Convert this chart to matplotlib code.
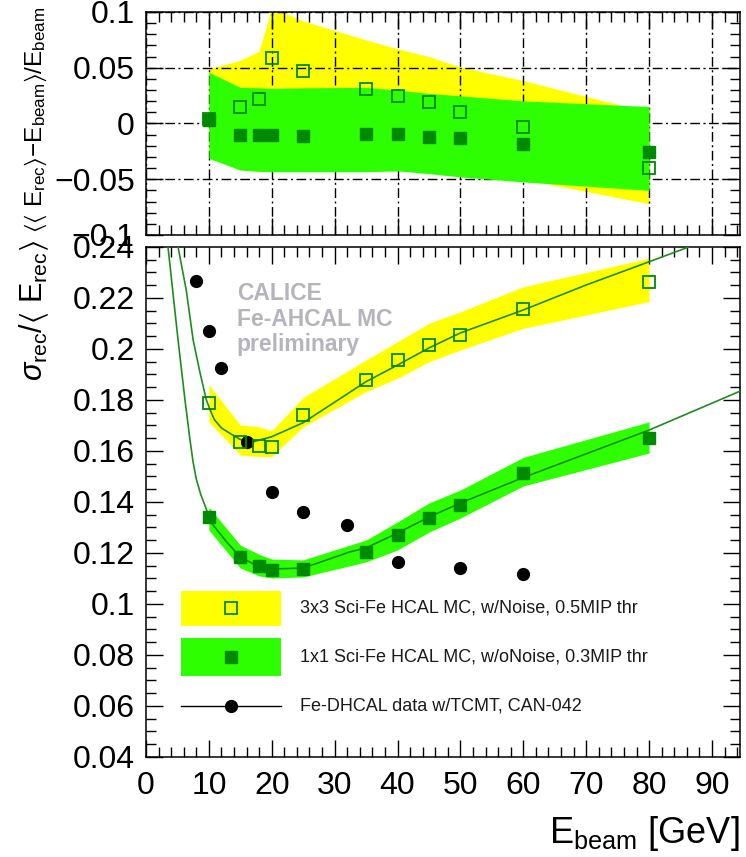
import numpy as np
import matplotlib
matplotlib.use("Agg")
import matplotlib.pyplot as plt
from matplotlib.ticker import MultipleLocator, FuncFormatter
from matplotlib.patches import Rectangle

# Energias dos pontos de MC
energias = [10, 15, 18, 20, 25, 35, 40, 45, 50, 60, 80]

# Painel de cima: linearidade (<E_rec> - E_beam) / E_beam
lin3x3 = [0.004, 0.0145, 0.022, 0.059, 0.047, 0.031, 0.025, 0.019, 0.010, -0.003, -0.040]
lin1x1 = [0.003, -0.010, -0.010, -0.010, -0.011, -0.009, -0.0095, -0.012, -0.013, -0.018, -0.026]
lin3x3Sup = [0.049, 0.0567, 0.065, 0.104, 0.092, 0.075, 0.067, 0.060, 0.0506, 0.0385, 0.010]
lin3x3Inf = [-0.030, -0.035, -0.030, -0.025, -0.025, -0.030, -0.035, -0.040, -0.045, -0.050, -0.072]
lin1x1Sup = [0.046, 0.0324, 0.032, 0.0315, 0.032, 0.0324, 0.030, 0.027, 0.0248, 0.0203, 0.0152]
lin1x1Inf = [-0.0312, -0.0418, -0.043, -0.0433, -0.0433, -0.0433, -0.0425, -0.045, -0.0479, -0.0524, -0.060]

# Painel de baixo: resolucao sigma / <E_rec>
res3x3 = [0.1788, 0.1635, 0.162, 0.1616, 0.174, 0.1878, 0.1957, 0.2016, 0.2055, 0.2157, 0.2263]
res1x1 = [0.134, 0.1184, 0.1148, 0.1135, 0.1138, 0.1204, 0.127, 0.1337, 0.139, 0.1514, 0.165]
res3x3Sup = [0.186, 0.1702, 0.1695, 0.168, 0.181, 0.1957, 0.2029, 0.2101, 0.2146, 0.2244, 0.2356]
res3x3Inf = [0.1714, 0.1584, 0.1578, 0.1578, 0.1695, 0.1833, 0.1885, 0.195, 0.1996, 0.2081, 0.2186]
res1x1Sup = [0.138, 0.1231, 0.1195, 0.1176, 0.1173, 0.1251, 0.1322, 0.1396, 0.1447, 0.1575, 0.1714]
res1x1Inf = [0.129, 0.1141, 0.111, 0.1102, 0.1106, 0.1165, 0.1212, 0.1282, 0.1337, 0.1463, 0.1592]

# Curvas de ajuste
ajuste3x3X = [5.1, 6.4, 7.5, 8.6, 9.6, 10.3, 10.9, 12.0, 13.3, 15, 17, 20, 25, 35, 40, 45, 50, 60, 70, 80, 86.3]
ajuste3x3Y = [0.24, 0.2231, 0.2035, 0.1906, 0.18, 0.1755, 0.1722, 0.1690, 0.167, 0.1645, 0.1636, 0.1656,
              0.1711, 0.1872, 0.1937, 0.2004, 0.2063, 0.2153, 0.2251, 0.2342, 0.24]
ajuste1x1X = [3.5, 5.1, 6.2, 7.0, 7.5, 8.0, 8.7, 9.4, 10.4, 12.8, 15, 18, 20, 25, 32.4, 35, 40, 45, 50, 60,
              80, 94.5]
ajuste1x1Y = [0.24, 0.2035, 0.18, 0.1643, 0.1555, 0.1490, 0.1430, 0.1385, 0.1318, 0.1244, 0.1184, 0.1145,
              0.1137, 0.1141, 0.1204, 0.122, 0.1278, 0.1341, 0.1396, 0.1496, 0.1682, 0.1835]

# Dados Fe-DHCAL
dhcalE = [8, 10, 12, 16, 20, 25, 32, 40, 50, 60]
dhcalRes = [0.2267, 0.207, 0.1925, 0.1635, 0.144, 0.136, 0.131, 0.1165, 0.114, 0.1118]

legendas = ["3x3 Sci-Fe HCAL MC, w/Noise, 0.5MIP thr",
            "1x1 Sci-Fe HCAL MC, w/oNoise, 0.3MIP thr",
            "Fe-DHCAL data w/TCMT, CAN-042"]

amarelo = "#ffff00"
verde = "#2eff00"
verdeEscuro = "#008a00"
verdeLinha = "#1e8c1e"


def formata(v, pos):
    return f"{round(v, 4):g}".replace("-", "\u2212")


def estiloEixo(ax):
    ax.tick_params(which="both", direction="in", top=True, right=True, width=1.0)
    ax.tick_params(which="major", length=12, labelsize=23, pad=8)
    ax.tick_params(which="minor", length=7)
    for s in ax.spines.values():
        s.set_linewidth(1.1)


def main():
    plt.rcParams["font.family"] = ["Liberation Sans", "DejaVu Sans"]
    plt.rcParams["mathtext.fontset"] = "custom"
    plt.rcParams["mathtext.rm"] = "Liberation Sans"
    plt.rcParams["mathtext.it"] = "Liberation Sans:italic"
    plt.rcParams["mathtext.fallback"] = "stixsans"

    fig = plt.figure(figsize=(7.46, 8.57), dpi=100)
    axTop = fig.add_axes([0.1957, 0.7258, 0.7962, 0.2602])
    axBot = fig.add_axes([0.1957, 0.1167, 0.7962, 0.5951])

    # Painel de cima
    axTop.fill_between(energias, lin3x3Inf, lin3x3Sup, color=amarelo, lw=0, zorder=1)
    axTop.fill_between(energias, lin1x1Inf, lin1x1Sup, color=verde, lw=0, zorder=2)
    axTop.plot(energias, lin1x1, "s", color=verdeEscuro, ms=8, zorder=4)
    axTop.plot(energias, lin3x3, "s", mfc="none", mec=verdeEscuro, mew=1.3, ms=9, zorder=5)
    axTop.set_xlim(0, 94.45)
    axTop.set_ylim(-0.1, 0.1)
    axTop.xaxis.set_major_locator(MultipleLocator(10))
    axTop.xaxis.set_minor_locator(MultipleLocator(2))
    axTop.yaxis.set_major_locator(MultipleLocator(0.05))
    axTop.yaxis.set_minor_locator(MultipleLocator(0.01))
    axTop.yaxis.set_major_formatter(FuncFormatter(formata))
    axTop.tick_params(labelbottom=False)
    axTop.grid(True, which="major", color="black", lw=1.0, linestyle=(0, (7, 2.5, 1.5, 2.5)), zorder=3)
    estiloEixo(axTop)

    # Painel de baixo
    axBot.fill_between(energias, res3x3Inf, res3x3Sup, color=amarelo, lw=0, zorder=1)
    axBot.fill_between(energias, res1x1Inf, res1x1Sup, color=verde, lw=0, zorder=1)
    axBot.plot(ajuste3x3X, ajuste3x3Y, color=verdeLinha, lw=1.2, zorder=3)
    axBot.plot(ajuste1x1X, ajuste1x1Y, color=verdeLinha, lw=1.2, zorder=3)
    axBot.plot(dhcalE, dhcalRes, "o", color="black", ms=8.5, zorder=4)
    axBot.plot(energias, res1x1, "s", color=verdeEscuro, ms=8, zorder=5)
    axBot.plot(energias, res3x3, "s", mfc="none", mec=verdeEscuro, mew=1.3, ms=9, zorder=5)
    axBot.set_xlim(0, 94.45)
    axBot.set_ylim(0.04, 0.24)
    axBot.xaxis.set_major_locator(MultipleLocator(10))
    axBot.xaxis.set_minor_locator(MultipleLocator(2))
    axBot.yaxis.set_major_locator(MultipleLocator(0.02))
    axBot.yaxis.set_minor_locator(MultipleLocator(0.005))
    axBot.yaxis.set_major_formatter(FuncFormatter(formata))
    estiloEixo(axBot)
    axBot.tick_params(axis="x", which="major", pad=10)

    # Texto CALICE
    cinza = "#b4b4bc"
    axBot.text(0.153, 0.896, "CALICE", transform=axBot.transAxes, color=cinza, fontsize=16.5, fontweight="bold")
    axBot.text(0.153, 0.845, "Fe-AHCAL MC", transform=axBot.transAxes, color=cinza, fontsize=16.5, fontweight="bold")
    axBot.text(0.153, 0.796, "preliminary", transform=axBot.transAxes, color=cinza, fontsize=16.5, fontweight="bold")

    # Legenda feita a mao
    tr = axBot.transAxes
    axBot.add_patch(Rectangle((0.0589, 0.2569), 0.1684, 0.0686, transform=tr, color=amarelo, lw=0, zorder=6))
    axBot.add_patch(Rectangle((0.0589, 0.1588), 0.1684, 0.0745, transform=tr, color=verde, lw=0, zorder=6))
    axBot.plot([0.1431], [0.2922], "s", mfc="none", mec=verdeEscuro, mew=1.3, ms=9, transform=tr, zorder=7)
    axBot.plot([0.1431], [0.1961], "s", color=verdeEscuro, ms=8, transform=tr, zorder=7)
    axBot.plot([0.0589, 0.2273], [0.1, 0.1], color="black", lw=1.0, transform=tr, zorder=7)
    axBot.plot([0.1431], [0.1], "o", color="black", ms=8.5, transform=tr, zorder=7)
    for texto, yy in zip(legendas, [0.2922, 0.1961, 0.1]):
        axBot.text(0.2593, yy, texto, transform=tr, fontsize=13, va="center", color="#1a1a1a", zorder=7)

    # Titulos dos eixos
    fig.text(1 - 6 / 746, 1 - 843 / 857, r"$\mathrm{E_{beam}}$ [GeV]", fontsize=26, ha="right", va="baseline")
    fig.text(42 / 746, 1 - 240 / 857, r"$\sigma_{\mathrm{rec}}/\langle\ \mathrm{E_{rec}}\rangle$",
             fontsize=22, rotation=90, rotation_mode="anchor", ha="right", va="baseline")
    fig.text(42 / 746, 1 - 7 / 857,
             r"$\langle\langle\ \mathrm{E_{rec}}\rangle\mathrm{-E_{beam}}\rangle\mathrm{/E_{beam}}$",
             fontsize=17.5, rotation=90, rotation_mode="anchor", ha="right", va="baseline")

    fig.savefig("out.png", dpi=100)


if __name__ == "__main__":
    main()
